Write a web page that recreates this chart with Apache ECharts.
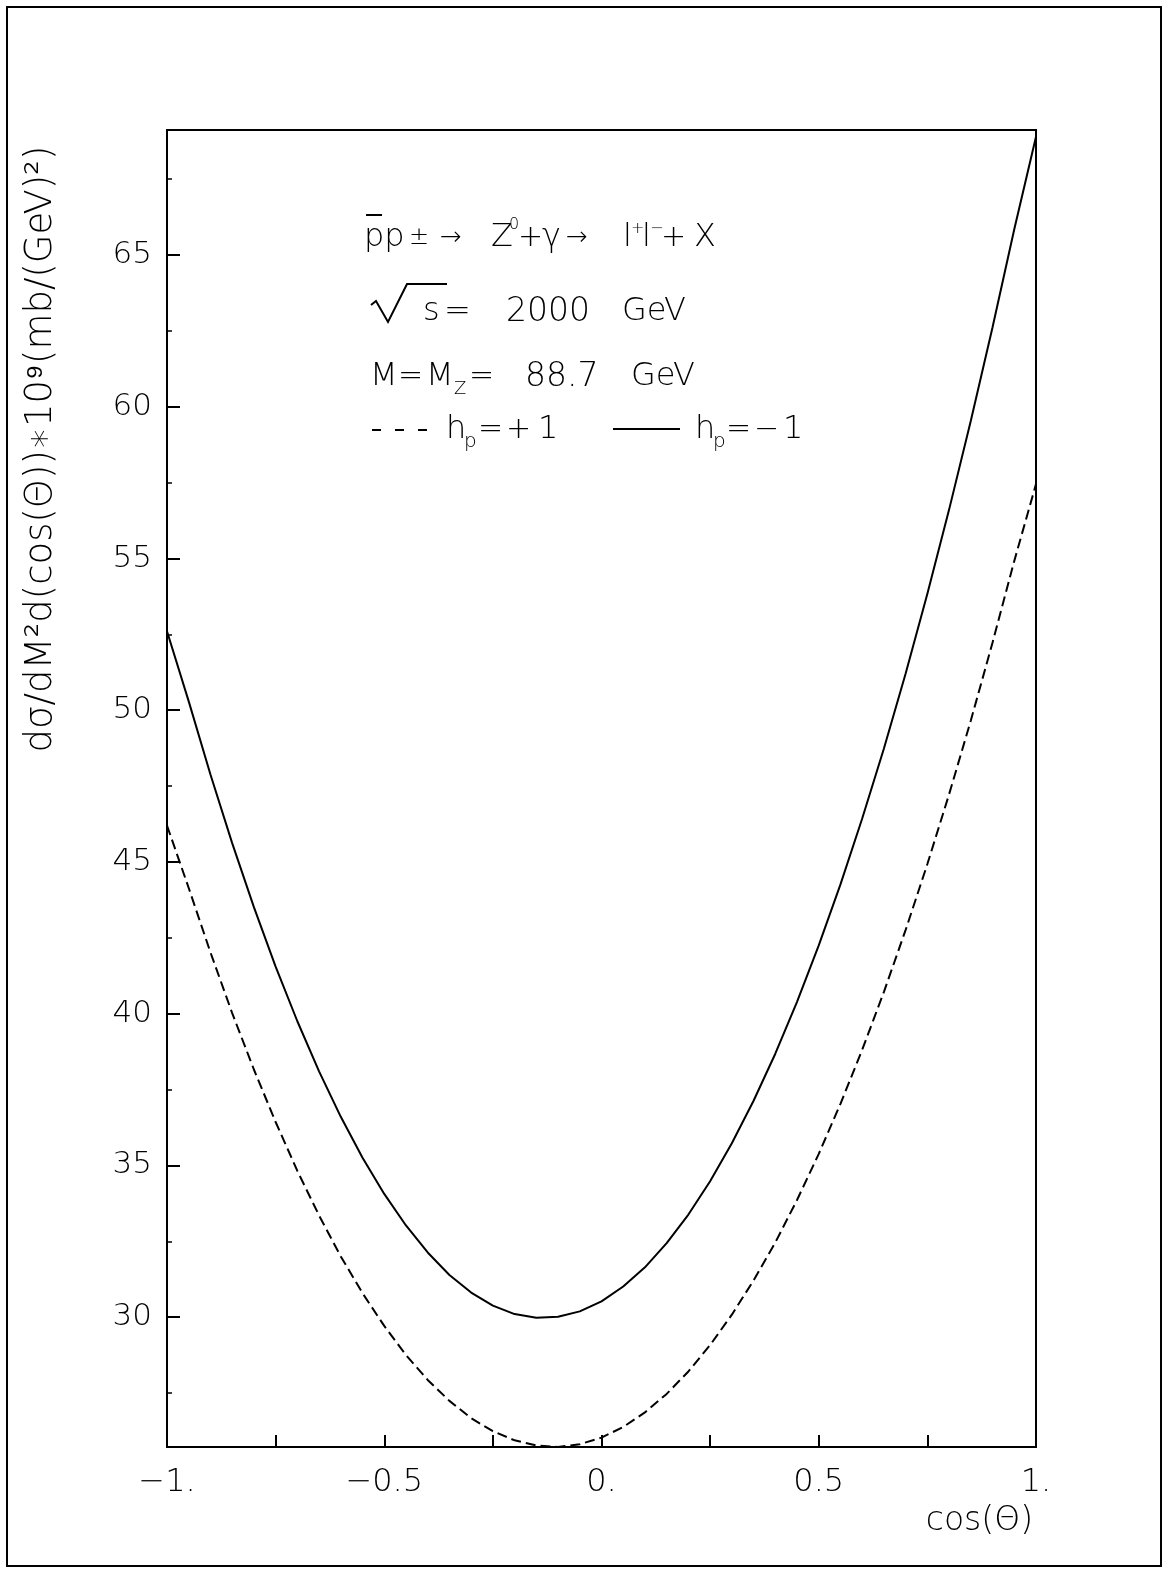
<!DOCTYPE html>
<html>
<head>
<meta charset="utf-8">
<title>dsigma / d cos(theta)</title>
<script src="https://cdn.jsdelivr.net/npm/echarts@6/dist/echarts.min.js"></script>
<style>
    html, body { margin: 0; padding: 0; background: #fff; }
    #chart { width: 1170px; height: 1580px; }
</style>
</head>
<body>
<div id="chart"></div>
<script>
// cos(theta) sample points, read every 0.05 off the plot
var cosTheta = [-1, -0.95, -0.9, -0.85, -0.8, -0.75, -0.7, -0.65, -0.6, -0.55, -0.5,
    -0.45, -0.4, -0.35, -0.3, -0.25, -0.2, -0.15, -0.1, -0.05, 0,
    0.05, 0.1, 0.15, 0.2, 0.25, 0.3, 0.35, 0.4, 0.45, 0.5,
    0.55, 0.6, 0.65, 0.7, 0.75, 0.8, 0.85, 0.9, 0.95, 1];
// h_p = -1 (solid)
var sigmaMinus = [52.6, 50.29, 47.88, 45.62, 43.51, 41.55, 39.75, 38.10, 36.60, 35.25, 34.06,
    33.02, 32.13, 31.39, 30.81, 30.38, 30.10, 29.98, 30.01, 30.19, 30.52,
    31.01, 31.64, 32.44, 33.38, 34.48, 35.73, 37.13, 38.68, 40.39, 42.25,
    44.26, 46.43, 48.74, 51.21, 53.84, 56.61, 59.54, 62.62, 65.85, 68.9];
// h_p = +1 (dashed)
var sigmaPlus = [46.2, 44.14, 42.02, 40.02, 38.16, 36.43, 34.82, 33.35, 32.00, 30.79, 29.71,
    28.75, 27.93, 27.24, 26.67, 26.24, 25.94, 25.77, 25.72, 25.81, 26.03,
    26.38, 26.86, 27.47, 28.21, 29.08, 30.08, 31.21, 32.46, 33.86, 35.38,
    37.03, 38.81, 40.72, 42.76, 44.93, 47.23, 49.66, 52.23, 54.92, 57.45];

var yTickValues = [30, 35, 40, 45, 50, 55, 60, 65];
var yMinorValues = [27.5, 32.5, 37.5, 42.5, 47.5, 52.5, 57.5, 62.5, 67.5];
var xLabelValues = [-1, -0.5, 0, 0.5, 1];
var xLabelTexts = ['\u22121.', '\u22120.5', '0.', '0.5', '1.'];

var FONT = "'DejaVu Sans', sans-serif";
var WEIGHT = 200;

(function() {
    var plot = {
        init() {
            this.chart = echarts.init(document.getElementById('chart'), null, { renderer: 'canvas' });
            this.chart.setOption(this.getOption());
        },
        pair(xs, ys) {
            return xs.map(function(x, i) { return [x, ys[i]]; });
        },
        txt(x, y, s, size, align) {
            return {
                type: 'text', x: x, y: y,
                style: {
                    text: s, fontSize: size, fontFamily: FONT, fontWeight: WEIGHT, fill: '#000',
                    align: align || 'left', textAlign: align || 'left',
                    verticalAlign: 'middle', textVerticalAlign: 'middle'
                }
            };
        },
        seg(x1, y1, x2, y2, dash) {
            return {
                type: 'line',
                shape: { x1: x1, y1: y1, x2: x2, y2: y2 },
                style: { stroke: '#000', lineWidth: 2, lineDash: dash || null }
            };
        },
        getGraphic() {
            var t = this.txt.bind(this);
            var g = [];
            // outer page frame
            g.push({ type: 'rect', shape: { x: 7, y: 7, width: 1154, height: 1559 },
                style: { fill: 'none', stroke: '#000', lineWidth: 2 } });

            // line 1: pbar p± -> Z0 + gamma -> l+l- + X
            g.push(t(364, 238, 'pp', 32));
            g.push(this.seg(366, 215, 382, 215));
            g.push(t(409, 238, '±', 24));
            g.push(t(440, 238, '→', 26));
            g.push(t(491, 238, 'Z', 32));
            g.push(t(509, 225, '0', 16));
            g.push(t(518, 238, '+', 30));
            g.push(t(542, 238, 'γ', 32));
            g.push(t(566, 238, '→', 26));
            g.push(t(623, 238, 'l', 32));
            g.push(t(631, 229, '+', 16));
            g.push(t(642, 238, 'l', 32));
            g.push(t(650, 229, '−', 16));
            g.push(t(661, 238, '+', 30));
            g.push(t(694, 238, 'X', 32));

            // line 2: sqrt(s) = 2000 GeV, root sign drawn as a stroke
            g.push({ type: 'polyline',
                shape: { points: [[371, 305], [376, 301], [388, 322], [407, 284], [447, 284]] },
                style: { stroke: '#000', lineWidth: 2, fill: null } });
            g.push(t(423, 312, 's', 32));
            g.push(t(444, 312, '=', 32));
            g.push(t(506, 312, '2000', 33));
            g.push(t(622, 312, 'GeV', 32));

            // line 3: M = M_Z = 88.7 GeV
            g.push(t(370, 377, 'M', 32));
            g.push(t(398, 377, '=', 30));
            g.push(t(426, 377, 'M', 32));
            g.push(t(454, 389, 'Z', 18));
            g.push(t(469, 377, '=', 30));
            g.push(t(525, 377, '88.7', 33));
            g.push(t(631, 377, 'GeV', 32));

            // line 4: legend keys
            g.push(this.seg(372, 430, 430, 430, [9, 14]));
            g.push(t(446, 430, 'h', 32));
            g.push(t(464, 442, 'p', 20));
            g.push(t(478, 430, '=', 30));
            g.push(t(506, 430, '+', 30));
            g.push(t(538, 430, '1', 32));
            g.push(this.seg(613, 429, 680, 429));
            g.push(t(695, 430, 'h', 32));
            g.push(t(713, 442, 'p', 20));
            g.push(t(726, 430, '=', 30));
            g.push(t(754, 430, '−', 30));
            g.push(t(783, 430, '1', 32));

            // axis titles
            var ytitle = t(41, 449, 'dσ/dM²d(cos(Θ))∗10⁹(mb/(GeV)²)', 37, 'center');
            ytitle.rotation = Math.PI / 2;
            g.push(ytitle);
            g.push(t(1033, 1521, 'cos(Θ)', 33, 'right'));
            return g;
        },
        getOption() {
            var labelStyle = { color: '#000', fontFamily: FONT, fontWeight: WEIGHT };
            return {
                animation: false,
                backgroundColor: '#fff',
                grid: {
                    left: 167, right: 134, top: 130, bottom: 133,
                    show: true, borderColor: '#000', borderWidth: 2
                },
                xAxis: {
                    type: 'value', min: -1, max: 1, interval: 0.25,
                    axisLine: { show: false, onZero: false },
                    splitLine: { show: false },
                    axisTick: { inside: true, length: 12, lineStyle: { color: '#000', width: 2 } },
                    axisLabel: Object.assign({
                        fontSize: 32, margin: 20, showMinLabel: true, showMaxLabel: true,
                        formatter: function(v) {
                            var i = xLabelValues.indexOf(v);
                            return i < 0 ? '' : xLabelTexts[i];
                        }
                    }, labelStyle)
                },
                yAxis: [{
                    type: 'value', min: 25.72, max: 69.12, position: 'left',
                    axisLine: { show: false, onZero: false },
                    splitLine: { show: false },
                    axisTick: { customValues: yTickValues, inside: true, length: 13,
                        lineStyle: { color: '#000', width: 2 } },
                    axisLabel: Object.assign({ customValues: yTickValues, fontSize: 31, margin: 15 }, labelStyle)
                }, {
                    type: 'value', min: 25.72, max: 69.12, position: 'left',
                    axisLine: { show: false, onZero: false },
                    splitLine: { show: false },
                    axisLabel: { show: false },
                    axisTick: { customValues: yMinorValues, inside: true, length: 5,
                        lineStyle: { color: '#000', width: 1.5 } }
                }],
                series: [{
                    name: 'h_p=+1', type: 'line', showSymbol: false,
                    data: this.pair(cosTheta, sigmaPlus),
                    lineStyle: { color: '#000', width: 2, type: [10, 5] }
                }, {
                    name: 'h_p=-1', type: 'line', showSymbol: false,
                    data: this.pair(cosTheta, sigmaMinus),
                    lineStyle: { color: '#000', width: 2 }
                }],
                graphic: this.getGraphic()
            };
        }
    };
    plot.init();
})();
</script>
</body>
</html>
